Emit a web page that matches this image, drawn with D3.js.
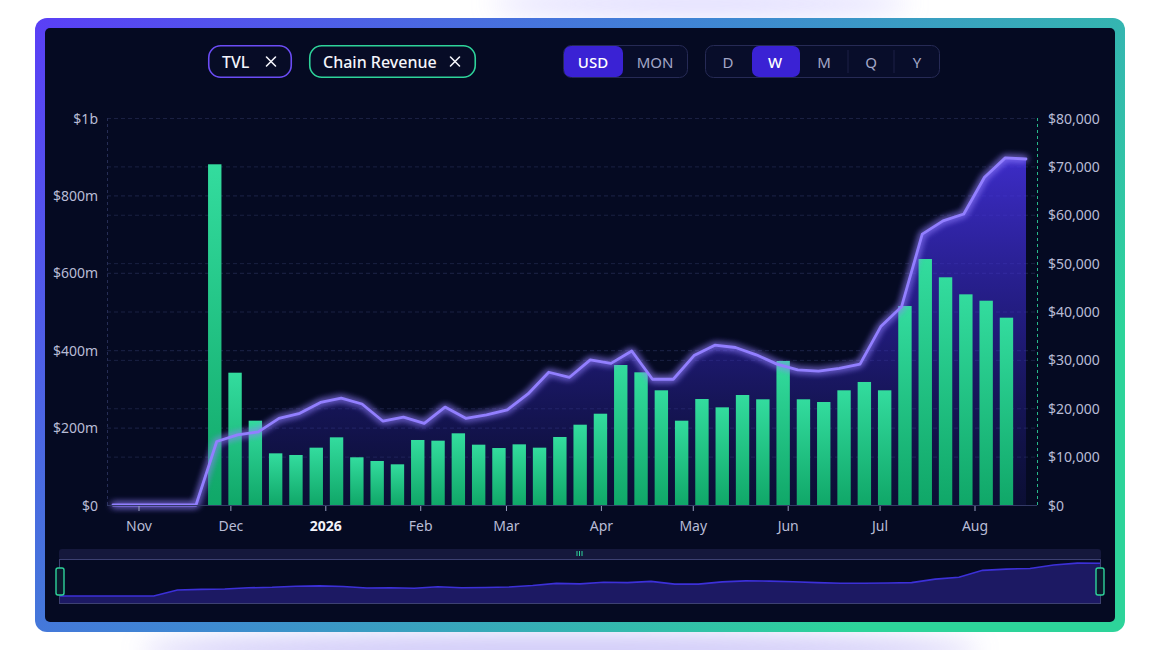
<!DOCTYPE html>
<html><head><meta charset="utf-8">
<script src="https://cdn.jsdelivr.net/npm/d3@7"></script>
<style>
html,body{margin:0;padding:0;background:#fff;overflow:hidden;}
svg{display:block;font-family:"Noto Sans","Open Sans",sans-serif;}
</style></head><body>
<svg id="c" width="1160" height="650"></svg>
<script>
// ---------- data ----------
const tvlWeeks = ["2025-10-20","2025-10-27","2025-11-03","2025-11-10","2025-11-17","2025-11-24","2025-12-01","2025-12-08","2025-12-15","2025-12-22","2025-12-29","2026-01-05","2026-01-12","2026-01-19","2026-01-26","2026-02-02","2026-02-09","2026-02-16","2026-02-23","2026-03-02","2026-03-09","2026-03-16","2026-03-23","2026-03-30","2026-04-06","2026-04-13","2026-04-20","2026-04-27","2026-05-04","2026-05-11","2026-05-18","2026-05-25","2026-06-01","2026-06-08","2026-06-15","2026-06-22","2026-06-29","2026-07-06","2026-07-13","2026-07-20","2026-07-27","2026-08-03","2026-08-10","2026-08-17","2026-08-24"];
// TVL in $ millions (left axis)
const tvlValues = [0,0,0,0,0,164,181,189,224,237,265,276,261,217,227,211,253,224,233,246,287,343,330,375,366,398,325,325,386,413,407,388,364,349,346,353,364,461,512,700,734,752,847,897,894];
const revenueWeeks = ["2025-11-24","2025-12-01","2025-12-08","2025-12-15","2025-12-22","2025-12-29","2026-01-05","2026-01-12","2026-01-19","2026-01-26","2026-02-02","2026-02-09","2026-02-16","2026-02-23","2026-03-02","2026-03-09","2026-03-16","2026-03-23","2026-03-30","2026-04-06","2026-04-13","2026-04-20","2026-04-27","2026-05-04","2026-05-11","2026-05-18","2026-05-25","2026-06-01","2026-06-08","2026-06-15","2026-06-22","2026-06-29","2026-07-06","2026-07-13","2026-07-20","2026-07-27","2026-08-03","2026-08-10","2026-08-17","2026-08-24"];
// Chain revenue in $ (right axis)
const revenueValues = [70430,27350,17430,10680,10340,11850,13990,9860,9100,8410,13440,13300,14820,12470,11780,12540,11850,14060,16600,18870,28940,27430,23710,17430,21910,20190,22740,21850,29770,21850,21290,23710,25430,23710,41140,50850,47070,43550,42230,38720];
const leftTicks = [0,200,400,600,800,1000];
const leftTickLabels = ["$0","$200m","$400m","$600m","$800m","$1b"];
const rightTicks = [0,10000,20000,30000,40000,50000,60000,70000,80000];
const monthTicks = ["2025-11-01","2025-12-01","2026-01-01","2026-02-01","2026-03-01","2026-04-01","2026-05-01","2026-06-01","2026-07-01","2026-08-01"];
const monthLabels = ["Nov","Dec","2026","Feb","Mar","Apr","May","Jun","Jul","Aug"];
const seriesNames = ["TVL","Chain Revenue"];
const currencies = ["USD","MON"];
const periods = ["D","W","M","Q","Y"];

// ---------- setup ----------
const svg = d3.select("#c");
const defs = svg.append("defs");
const P = {l:107, r:1037, t:118, b:505};

const fg = defs.append("linearGradient").attr("id","frameG").attr("x1",0).attr("y1",0).attr("x2",1).attr("y2",0.5);
fg.append("stop").attr("offset","0%").attr("stop-color","#5a3ff6");
fg.append("stop").attr("offset","50%").attr("stop-color","#3f86d3");
fg.append("stop").attr("offset","100%").attr("stop-color","#2dd49a");

const ag = defs.append("linearGradient").attr("id","areaG").attr("gradientUnits","userSpaceOnUse")
  .attr("x1",0).attr("y1",P.t).attr("x2",0).attr("y2",P.b);
ag.append("stop").attr("offset","0%").attr("stop-color","#4d36f5").attr("stop-opacity",0.88);
ag.append("stop").attr("offset","55%").attr("stop-color","#3b2bd0").attr("stop-opacity",0.5);
ag.append("stop").attr("offset","100%").attr("stop-color","#2a2590").attr("stop-opacity",0.16);

const bg = defs.append("linearGradient").attr("id","barG").attr("x1",0).attr("y1",0).attr("x2",0).attr("y2",1);
bg.append("stop").attr("offset","0%").attr("stop-color","#33dc9e");
bg.append("stop").attr("offset","100%").attr("stop-color","#10a768");

const glow = defs.append("filter").attr("id","glow").attr("x","-10%").attr("y","-30%").attr("width","120%").attr("height","160%");
glow.append("feGaussianBlur").attr("in","SourceGraphic").attr("stdDeviation",3.5).attr("result","b");
const gm = glow.append("feMerge");
gm.append("feMergeNode").attr("in","b");
gm.append("feMergeNode").attr("in","b");
gm.append("feMergeNode").attr("in","SourceGraphic");

const soft = defs.append("filter").attr("id","soft").attr("x","-50%").attr("y","-200%").attr("width","200%").attr("height","500%");
soft.append("feGaussianBlur").attr("stdDeviation",12);

// page glow
svg.append("ellipse").attr("cx",560).attr("cy",650).attr("rx",420).attr("ry",16).attr("fill","#bdb5f6").attr("opacity",0.75).attr("filter","url(#soft)");
svg.append("ellipse").attr("cx",700).attr("cy",4).attr("rx",210).attr("ry",12).attr("fill","#d6d0ff").attr("opacity",0.8).attr("filter","url(#soft)");

// frame
svg.append("rect").attr("x",35).attr("y",18).attr("width",1090).attr("height",614).attr("rx",12).attr("fill","url(#frameG)");
svg.append("rect").attr("x",45).attr("y",28).attr("width",1070).attr("height",594).attr("rx",5).attr("fill","#050a22");

// ---------- scales ----------
const xLine = d3.scalePoint().domain(tvlWeeks).range([113, 1026]);
const xBar = d3.scaleBand().domain(revenueWeeks).range([204.6, 1016.6]).paddingInner(0.34).paddingOuter(0.17);
const xTime = d3.scaleTime().domain([new Date(2025,10,1), new Date(2026,7,1)]).range([139, 975]);
const yL = d3.scaleLinear().domain([0,1000]).range([P.b, P.t]);
const yR = d3.scaleLinear().domain([0,80000]).range([P.b, P.t]);

// grid
const grid = svg.append("g");
grid.selectAll(".gl").data(leftTicks.slice(1)).join("line")
  .attr("x1",P.l).attr("x2",P.r).attr("y1",d=>yL(d)+0.5).attr("y2",d=>yL(d)+0.5)
  .attr("stroke","#1d2448").attr("stroke-dasharray","4,3");
grid.selectAll(".gr").data(rightTicks.slice(1)).join("line")
  .attr("x1",P.l).attr("x2",P.r).attr("y1",d=>yR(d)+0.5).attr("y2",d=>yR(d)+0.5)
  .attr("stroke","#1a2042").attr("stroke-dasharray","4,3");
grid.append("line").attr("x1",P.l+0.5).attr("x2",P.l+0.5).attr("y1",P.t).attr("y2",P.b)
  .attr("stroke","#262d55").attr("stroke-dasharray","3,3");
grid.append("line").attr("x1",P.r+0.5).attr("x2",P.r+0.5).attr("y1",P.t).attr("y2",P.b)
  .attr("stroke","#27b88a").attr("stroke-dasharray","3,3");

// area
const tvl = tvlWeeks.map((w,i)=>({w, v:tvlValues[i]}));
svg.append("path").datum(tvl)
  .attr("d", d3.area().x(d=>xLine(d.w)).y0(P.b).y1(d=>yL(d.v)))
  .attr("fill","url(#areaG)");

// bars
const rev = revenueWeeks.map((w,i)=>({w, v:revenueValues[i]}));
svg.append("g").selectAll("rect").data(rev).join("rect")
  .attr("x",d=>xBar(d.w)).attr("width",xBar.bandwidth())
  .attr("y",d=>yR(d.v)).attr("height",d=>P.b-yR(d.v))
  .attr("fill","url(#barG)");

// line
svg.append("path").datum(tvl)
  .attr("d", d3.line().x(d=>xLine(d.w)).y(d=>yL(d.v)))
  .attr("fill","none").attr("stroke","#927fff").attr("stroke-width",2.8)
  .attr("stroke-linejoin","round").attr("stroke-linecap","round").attr("filter","url(#glow)");

// x axis
svg.append("line").attr("x1",P.l).attr("x2",P.r).attr("y1",P.b+0.5).attr("y2",P.b+0.5).attr("stroke","#333a66");
const mt = monthTicks.map((d,i)=>({d:d3.isoParse(d), label:monthLabels[i]}));
const xa = svg.append("g");
xa.selectAll("line").data(mt).join("line")
  .attr("x1",d=>xTime(d.d)).attr("x2",d=>xTime(d.d)).attr("y1",P.b+1).attr("y2",P.b+6)
  .attr("stroke","#9aa0c2");
xa.selectAll("text").data(mt).join("text")
  .attr("x",d=>xTime(d.d)).attr("y",P.b+20).attr("text-anchor","middle").attr("dominant-baseline","central")
  .attr("font-size",14)
  .attr("font-weight",d=>d.label==="2026"?700:400)
  .attr("fill",d=>d.label==="2026"?"#f2f3fa":"#b8bcd6")
  .text(d=>d.label);

// left axis
svg.append("g").selectAll("text").data(leftTicks).join("text")
  .attr("x",98).attr("y",d=>yL(d)).attr("text-anchor","end").attr("dominant-baseline","central")
  .attr("font-size",14).attr("fill","#b8bcd6").text((d,i)=>leftTickLabels[i]);
// right axis
svg.append("g").selectAll("text").data(rightTicks).join("text")
  .attr("x",1048).attr("y",d=>yR(d)).attr("text-anchor","start").attr("dominant-baseline","central")
  .attr("font-size",14).attr("fill","#b8bcd6").text(d=>d3.format("$,")(d));

// ---------- top controls ----------
const pills = [{name:seriesNames[0], x:208, w:84, c:"#6b4cf5"},{name:seriesNames[1], x:309, w:167, c:"#2ed39a"}];
const pg = svg.append("g").selectAll("g").data(pills).join("g");
pg.append("rect").attr("x",d=>d.x+0.75).attr("y",45.75).attr("width",d=>d.w-1.5).attr("height",31.5).attr("rx",12)
  .attr("fill","#070c26").attr("stroke",d=>d.c).attr("stroke-width",1.6);
pg.append("text").attr("x",d=>d.x+14).attr("y",62).attr("dominant-baseline","central")
  .attr("font-size",16).attr("font-weight",500).attr("fill","#f4f5fb").text(d=>d.name);
pg.append("path")
  .attr("d",d=>{const cx=d.x+d.w-21, cy=61.5, s=4.5; return `M${cx-s},${cy-s}L${cx+s},${cy+s}M${cx+s},${cy-s}L${cx-s},${cy+s}`;})
  .attr("stroke","#f4f5fb").attr("stroke-width",1.6).attr("stroke-linecap","round");

// currency segmented
const cg = svg.append("g");
cg.append("rect").attr("x",563.5).attr("y",45.5).attr("width",124).attr("height",32).attr("rx",8)
  .attr("fill","#080d2a").attr("stroke","#262a55");
cg.append("rect").attr("x",564).attr("y",46).attr("width",59).attr("height",31).attr("rx",7).attr("fill","#3a22d4");
const curX = [593, 655];
cg.selectAll("text").data(currencies).join("text")
  .attr("x",(d,i)=>curX[i]).attr("y",62).attr("text-anchor","middle").attr("dominant-baseline","central")
  .attr("font-size",15).attr("font-weight",(d,i)=>i===0?500:400)
  .attr("fill",(d,i)=>i===0?"#ffffff":"#a3a7c7").text(d=>d);

// period segmented
const per = svg.append("g");
per.append("rect").attr("x",705.5).attr("y",45.5).attr("width",234).attr("height",32).attr("rx",8)
  .attr("fill","#080d2a").attr("stroke","#262a55");
const perX = [728, 775, 824, 871, 917];
per.selectAll("line").data([848, 894]).join("line")
  .attr("x1",d=>d).attr("x2",d=>d).attr("y1",50).attr("y2",73).attr("stroke","#1c2046");
per.append("rect").attr("x",752).attr("y",46).attr("width",48).attr("height",31).attr("rx",7).attr("fill","#3a22d4");
per.selectAll("text").data(periods).join("text")
  .attr("x",(d,i)=>perX[i]).attr("y",62).attr("text-anchor","middle").attr("dominant-baseline","central")
  .attr("font-size",15).attr("font-weight",(d,i)=>i===1?500:400)
  .attr("fill",(d,i)=>i===1?"#ffffff":"#a3a7c7").text(d=>d);

// ---------- data zoom slider ----------
const xMini = d3.scalePoint().domain(tvlWeeks).range([59, 1101]);
const yMini = d3.scaleLinear().domain([0,900]).range([596, 563]);
const sl = svg.append("g");
sl.append("rect").attr("x",59).attr("y",549).attr("width",1042).attr("height",11).attr("rx",3).attr("fill","#15183c");
sl.selectAll(".grip").data([577,579.5,582]).join("line")
  .attr("x1",d=>d).attr("x2",d=>d).attr("y1",551).attr("y2",556).attr("stroke","#2ed39a").attr("stroke-width",1);
sl.append("rect").attr("x",59.5).attr("y",559.5).attr("width",1041).attr("height",44).attr("fill","#050a22");
sl.append("path").datum(tvl)
  .attr("d", d3.area().x(d=>xMini(d.w)).y0(603).y1(d=>yMini(d.v)))
  .attr("fill","#1c1963");
sl.append("path").datum(tvl)
  .attr("d", d3.line().x(d=>xMini(d.w)).y(d=>yMini(d.v)))
  .attr("fill","none").attr("stroke","#3c30d8").attr("stroke-width",1.6);
sl.append("rect").attr("x",59.5).attr("y",559.5).attr("width",1041).attr("height",44)
  .attr("fill","none").attr("stroke","#3d4172");
sl.selectAll(".h").data([60,1100]).join("rect")
  .attr("x",d=>d-4).attr("y",568).attr("width",8).attr("height",27).attr("rx",2)
  .attr("fill","#0b1a2c").attr("stroke","#2ed39a").attr("stroke-width",1.4);
</script>
</body></html>
